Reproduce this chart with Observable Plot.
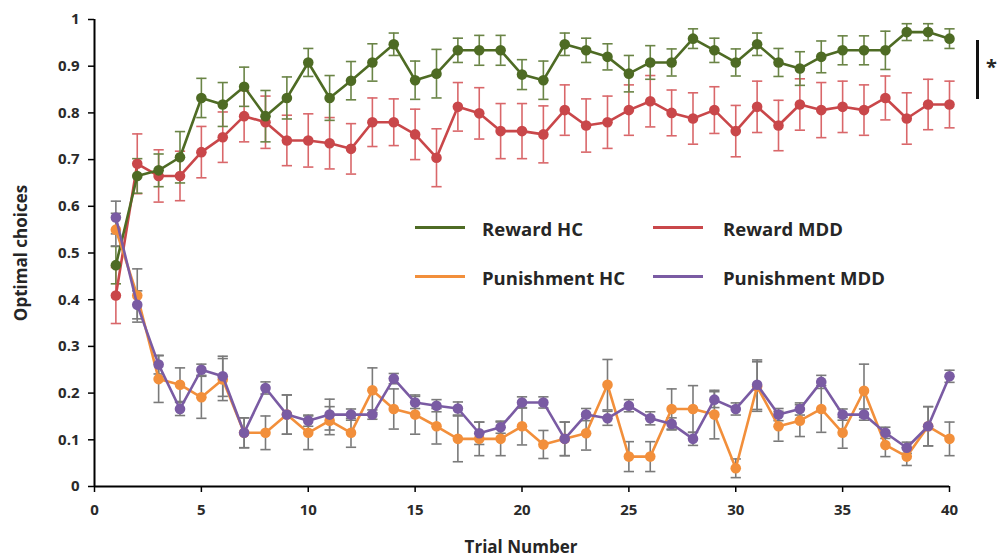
<!DOCTYPE html>
<html><head><meta charset="utf-8">
<script src="https://cdn.jsdelivr.net/npm/d3@7"></script>
<script src="https://cdn.jsdelivr.net/npm/@observablehq/plot@0.6"></script>
<style>
body{margin:0;background:#fff;}
#wrap{position:relative;width:1000px;height:557px;font-family:"Open Sans",sans-serif;color:#262626;overflow:hidden;}
#wrap svg{position:absolute;left:0;top:0;}
.leg{position:absolute;font-weight:700;font-size:18.5px;line-height:18px;white-space:nowrap;}
.legline{position:absolute;height:3px;width:50px;}
.title{position:absolute;font-weight:700;font-size:17px;white-space:nowrap;}
</style></head><body><div id="wrap"></div>
<script>
const trials = [1,2,3,4,5,6,7,8,9,10,11,12,13,14,15,16,17,18,19,20,21,22,23,24,25,26,27,28,29,30,31,32,33,34,35,36,37,38,39,40];
const xTicks = [0,5,10,15,20,25,30,35,40];
const yTicks = [0,0.1,0.2,0.3,0.4,0.5,0.6,0.7,0.8,0.9,1];

const rewardHC = [0.474,0.665,0.677,0.705,0.832,0.818,0.856,0.793,0.832,0.908,0.832,0.869,0.908,0.947,0.870,0.884,0.934,0.934,0.934,0.882,0.870,0.947,0.934,0.920,0.884,0.908,0.908,0.959,0.934,0.908,0.947,0.908,0.895,0.920,0.934,0.934,0.934,0.973,0.973,0.959];
const rewardHCErr = [0.04,0.037,0.035,0.055,0.042,0.047,0.042,0.055,0.045,0.03,0.048,0.041,0.04,0.024,0.041,0.052,0.026,0.032,0.032,0.032,0.041,0.024,0.026,0.028,0.039,0.036,0.029,0.021,0.026,0.029,0.024,0.03,0.036,0.034,0.031,0.031,0.041,0.018,0.018,0.021];

const rewardMDD = [0.409,0.691,0.665,0.665,0.716,0.748,0.793,0.780,0.741,0.741,0.735,0.723,0.780,0.780,0.754,0.704,0.813,0.799,0.761,0.761,0.754,0.806,0.773,0.780,0.806,0.825,0.800,0.788,0.806,0.761,0.813,0.773,0.818,0.806,0.813,0.806,0.832,0.788,0.818,0.818];
const rewardMDDErr = [0.06,0.064,0.056,0.053,0.055,0.054,0.055,0.056,0.054,0.057,0.055,0.054,0.052,0.05,0.054,0.062,0.052,0.055,0.059,0.059,0.061,0.054,0.057,0.056,0.054,0.055,0.049,0.055,0.05,0.055,0.055,0.054,0.055,0.059,0.055,0.054,0.047,0.055,0.054,0.05];

const punishmentHC = [0.550,0.409,0.230,0.218,0.191,0.229,0.115,0.115,0.154,0.115,0.141,0.115,0.206,0.166,0.154,0.129,0.102,0.102,0.102,0.129,0.090,0.102,0.114,0.218,0.064,0.064,0.166,0.166,0.154,0.039,0.214,0.129,0.141,0.166,0.115,0.205,0.089,0.064,0.129,0.102];
const punishmentHCErr = [0.035,0.057,0.05,0.036,0.045,0.045,0.032,0.036,0.042,0.036,0.03,0.031,0.048,0.043,0.042,0.038,0.049,0.036,0.036,0.04,0.03,0.036,0.036,0.054,0.032,0.032,0.043,0.05,0.052,0.02,0.053,0.032,0.034,0.05,0.033,0.057,0.025,0.019,0.042,0.036];

const punishmentMDD = [0.576,0.389,0.261,0.166,0.250,0.236,0.115,0.211,0.154,0.141,0.154,0.154,0.154,0.231,0.180,0.173,0.167,0.114,0.127,0.180,0.180,0.102,0.154,0.146,0.173,0.146,0.134,0.102,0.186,0.166,0.218,0.154,0.166,0.224,0.154,0.154,0.115,0.083,0.129,0.236];
const punishmentMDDErr = [0.035,0.03,0.02,0.014,0.012,0.043,0.032,0.013,0.042,0.012,0.033,0.012,0.01,0.011,0.013,0.013,0.014,0.024,0.013,0.012,0.012,0.036,0.013,0.015,0.013,0.014,0.013,0.014,0.017,0.013,0.053,0.013,0.013,0.014,0.012,0.012,0.012,0.012,0.042,0.013];

const seriesNames = ["Reward HC","Reward MDD","Punishment HC","Punishment MDD"];
const series = [
  {name: seriesNames[1], values: rewardMDD, errors: rewardMDDErr, color: "#c9474a", errColor: "#d9676a"},
  {name: seriesNames[0], values: rewardHC, errors: rewardHCErr, color: "#4e6b24", errColor: "#6a8446"},
  {name: seriesNames[2], values: punishmentHC, errors: punishmentHCErr, color: "#f28f3b", errColor: "#7a7a7a"},
  {name: seriesNames[3], values: punishmentMDD, errors: punishmentMDDErr, color: "#7a5ba3", errColor: "#7a7a7a"}
];
const rows = s => trials.map((t, i) => ({trial: t, value: s.values[i], err: s.errors[i]}));
const capW = 0.24;

const marks = [];
for (const s of series) {
  const d = rows(s);
  marks.push(Plot.ruleX(d, {x: "trial", y1: r => r.value - r.err, y2: r => r.value + r.err, stroke: s.errColor, strokeWidth: 1.6}));
  marks.push(Plot.link(d, {x1: r => r.trial - capW, x2: r => r.trial + capW, y1: r => r.value + r.err, y2: r => r.value + r.err, stroke: s.errColor, strokeWidth: 1.6}));
  marks.push(Plot.link(d, {x1: r => r.trial - capW, x2: r => r.trial + capW, y1: r => r.value - r.err, y2: r => r.value - r.err, stroke: s.errColor, strokeWidth: 1.6}));
}
for (const s of series) {
  const d = rows(s);
  marks.push(Plot.line(d, {x: "trial", y: "value", stroke: s.color, strokeWidth: 2.6}));
  marks.push(Plot.dot(d, {x: "trial", y: "value", r: 5.3, fill: s.color, stroke: "none"}));
}

const chart = Plot.plot({
  width: 1000,
  height: 557,
  marginLeft: 94,
  marginRight: 51,
  marginTop: 19,
  marginBottom: 71,
  style: {fontFamily: "'Open Sans', sans-serif", fontSize: "15px", fontWeight: "700", color: "#2a2a2a", background: "#fff"},
  x: {domain: [0, 40]},
  y: {domain: [0, 1]},
  marks: [
    Plot.axisY({ticks: yTicks, tickFormat: d => String(d), tickSize: 6, tickPadding: 9, label: null, stroke: "#000", strokeWidth: 1.5}),
    Plot.axisX({ticks: xTicks, tickFormat: d => String(d), tickSize: 6, tickPadding: 12, label: null, stroke: "#000", strokeWidth: 1.5}),
    ...marks,
    Plot.ruleX([0], {stroke: "#000", strokeWidth: 2}),
    Plot.ruleY([0], {stroke: "#000", strokeWidth: 2})
  ]
});
const wrap = document.getElementById("wrap");
wrap.appendChild(chart);

// legend
const legendPos = [
  {lx: 415, ly: 226, tx: 482, ty: 220},
  {lx: 653, ly: 226, tx: 723, ty: 220},
  {lx: 415, ly: 275, tx: 482, ty: 269},
  {lx: 653, ly: 275, tx: 723, ty: 269}
];
const legColors = {"Reward HC": "#4e6b24", "Reward MDD": "#c9474a", "Punishment HC": "#f28f3b", "Punishment MDD": "#7a5ba3"};
legendPos.forEach((p, k) => {
  const name = seriesNames[k];
  const ln = document.createElement("div");
  ln.className = "legline";
  ln.style.left = p.lx + "px"; ln.style.top = p.ly + "px"; ln.style.background = legColors[name];
  wrap.appendChild(ln);
  const tx = document.createElement("div");
  tx.className = "leg";
  tx.style.left = p.tx + "px"; tx.style.top = p.ty + "px";
  tx.textContent = name;
  wrap.appendChild(tx);
});

// axis titles
const yt = document.createElement("div");
yt.className = "title";
yt.textContent = "Optimal choices";
yt.style.left = "20px"; yt.style.top = "253px";
yt.style.transform = "translate(-50%,-50%) rotate(-90deg)";
wrap.appendChild(yt);
const xt = document.createElement("div");
xt.className = "title";
xt.textContent = "Trial Number";
xt.style.left = "521px"; xt.style.top = "546px";
xt.style.transform = "translate(-50%,-50%)";
wrap.appendChild(xt);

// significance bracket
const br = document.createElement("div");
br.style.cssText = "position:absolute;left:976px;top:40px;width:2.5px;height:59px;background:#111;";
wrap.appendChild(br);
const st = document.createElement("div");
st.style.cssText = "position:absolute;left:986px;top:57px;font-size:20px;font-weight:700;line-height:20px;";
st.textContent = "*";
wrap.appendChild(st);
</script>
</body></html>
